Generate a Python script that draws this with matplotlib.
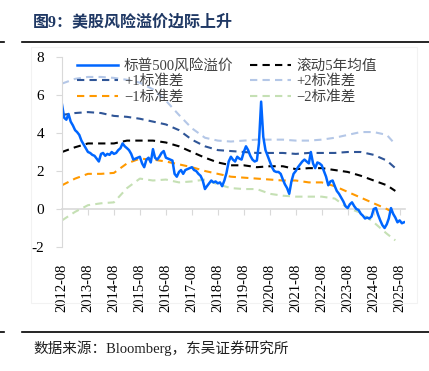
import pandas as pd
import matplotlib
matplotlib.use("Agg")
import matplotlib.pyplot as plt
import matplotlib.dates as mdates
from matplotlib.lines import Line2D
from matplotlib.patches import Rectangle

plt.rcParams['font.family'] = ['Liberation Serif', 'Noto Sans CJK SC']
plt.rcParams['axes.unicode_minus'] = False

## 数据
# 标普500风险溢价（月度，2012-08 起）
erp_start = "2012-08-01"
erp = [5.5, 4.8, 4.7, 5.0, 4.6, 4.4, 4.15, 4.05, 3.9, 3.6, 3.4, 3.2,
       3.0, 2.95, 2.85, 2.8, 2.65, 2.5, 2.9, 2.95, 2.8, 2.9, 2.85, 3.0,
       2.9, 2.95, 3.1, 3.2, 3.45, 3.3, 3.2, 3.1, 2.9, 2.6, 2.65, 2.7,
       2.75, 2.4, 2.2, 2.6, 2.7, 2.45, 3.15, 2.7, 2.6, 2.75, 2.95, 3.05,
       2.7, 2.65, 2.6, 2.55, 1.85, 1.7, 1.95, 2.05, 1.85, 2.05, 2.1, 2.15,
       2.2, 2.05, 2.0, 1.85, 1.75, 1.5, 1.05, 1.2, 1.35, 1.5, 1.4, 1.45,
       1.35, 1.4, 1.2, 1.5, 1.9, 2.5, 2.75, 2.6, 2.5, 2.75, 2.65, 2.6,
       3.0, 3.3, 3.1, 2.8, 2.6, 2.5, 2.55, 3.45, 5.65, 3.8, 3.1, 2.8,
       2.5, 2.2, 2.0, 1.95, 1.95, 1.85, 1.55, 1.3, 1.1, 0.8, 1.45, 1.85,
       2.0, 2.2, 2.35, 2.5, 2.6, 2.5, 2.4, 3.0, 2.4, 2.15, 2.45, 2.4,
       2.3, 2.0, 1.7, 1.25, 1.45, 1.5, 1.2, 0.95, 0.8, 0.6, 0.4, 0.15,
       0.05, 0.25, 0.35, 0.15, 0.0, -0.05, -0.25, -0.35, -0.5, -0.45, -0.5, -0.4,
       0.0, 0.05, -0.3, -0.6, -0.85, -1.0, -0.8, -0.5, 0.05, -0.25, -0.45, -0.7,
       -0.6, -0.75, -0.7]
erp_dates = pd.date_range(erp_start, periods=len(erp), freq="MS")

# 滚动5年均值及标准差带（半年度读数）
band_dates = pd.to_datetime([
    "2012-08", "2013-02", "2013-08", "2014-02", "2014-08", "2015-02", "2015-08",
    "2016-02", "2016-08", "2017-02", "2017-08", "2018-02", "2018-08", "2019-02",
    "2019-08", "2020-02", "2020-08", "2021-02", "2021-08", "2022-02", "2022-08",
    "2023-02", "2023-08", "2024-02", "2024-08", "2025-02", "2025-06"])
mean5y = [3.0, 3.25, 3.45, 3.45, 3.45, 3.6, 3.6, 3.6, 3.5, 3.3, 3.0, 2.7, 2.45, 2.3,
          2.3, 2.2, 2.25, 2.25, 2.1, 2.15, 2.15, 2.05, 1.95, 1.75, 1.5, 1.25, 0.95]
plus1 = [4.95, 5.05, 5.1, 5.05, 4.9, 4.85, 4.75, 4.6, 4.45, 4.15, 3.65, 3.3, 3.1, 3.05,
         3.0, 2.95, 2.95, 2.95, 2.9, 2.95, 2.95, 2.95, 3.0, 3.0, 2.85, 2.55, 2.15]
plus2 = [6.6, 6.85, 6.95, 6.95, 6.9, 6.8, 6.65, 6.3, 5.7, 4.95, 4.25, 3.75, 3.6, 3.55,
         3.6, 3.65, 3.65, 3.65, 3.6, 3.6, 3.65, 3.75, 3.9, 4.05, 4.05, 3.9, 3.4]
minus1 = [1.25, 1.6, 1.85, 1.85, 1.9, 2.4, 2.65, 2.6, 2.5, 2.35, 2.2, 2.0, 1.85, 1.7,
          1.65, 1.6, 1.55, 1.5, 1.5, 1.4, 1.4, 1.2, 0.9, 0.6, 0.3, 0.0, -0.25]
minus2 = [-0.6, -0.15, 0.2, 0.3, 0.35, 1.1, 1.6, 1.5, 1.55, 1.4, 1.45, 1.55, 1.3, 1.1,
          1.05, 1.05, 0.8, 0.7, 0.65, 0.65, 0.65, 0.55, 0.05, -0.2, -0.7, -1.3, -1.65]

tick_dates = pd.to_datetime(["{}-08-01".format(y) for y in range(2012, 2026)])

## 作图
fig = plt.figure(figsize=(4.29, 3.71), dpi=100)
W, H = 429, 371
ax = fig.add_axes([62 / W, 1 - 247 / H, (405 - 62) / W, (247 - 57) / H])

dash = (3.5, 2.5)
lw = 1.5
l_p1, = ax.plot(band_dates, plus1, color="#2F5597", lw=lw, dashes=dash, label="+1标准差")
l_p2, = ax.plot(band_dates, plus2, color="#B4C7E7", lw=lw, dashes=dash, label="+2标准差")
l_m2, = ax.plot(band_dates, minus2, color="#C5E0B4", lw=lw, dashes=dash, label="−2标准差")
l_m1, = ax.plot(band_dates, minus1, color="#FF9900", lw=lw, dashes=dash, label="−1标准差")
l_mean, = ax.plot(band_dates, mean5y, color="black", lw=lw, dashes=dash, label="滚动5年均值")
l_erp, = ax.plot(erp_dates, erp, color="#0066FF", lw=1.8, label="标普500风险溢价")

ax.set_ylim(-2, 8)
ax.set_yticks([-2, 0, 2, 4, 6, 8])
ax.set_xlim(pd.Timestamp("2012-08-01"), pd.Timestamp("2025-10-15"))
ax.set_xticks(tick_dates)
ax.set_xticklabels([d.strftime("%Y-%m") for d in tick_dates], rotation=90)

for s in ["top", "right", "bottom"]:
    ax.spines[s].set_visible(False)
ax.spines["left"].set_color("#D9D9D9")
ax.tick_params(axis="y", length=4, color="#D9D9D9", pad=9, labelsize=11)
ax.tick_params(axis="x", length=0, pad=12, labelsize=10.5)

# 横轴位于0处
sec = ax.secondary_xaxis(0, transform=ax.transData)
sec.set_xticks(mdates.date2num(tick_dates))
sec.set_xticklabels([])
sec.spines["bottom"].set_color("#D9D9D9")
sec.spines["bottom"].set_linewidth(1.2)
sec.tick_params(length=4, color="#D9D9D9")

leg = ax.legend(handles=[l_erp, l_p1, l_m1, l_mean, l_p2, l_m2], ncol=2,
                loc="upper left", bbox_to_anchor=(0.045, 0.99), frameon=False,
                fontsize=10.5, handlelength=2.8, handletextpad=0.4,
                columnspacing=1.1, labelspacing=0.15, borderpad=0, borderaxespad=0)
for t in leg.get_texts():
    t.set_color("#404040")

# 标题与来源
fig.text(33 / W, 1 - 22 / H, "图9：美股风险溢价边际上升", fontsize=11.5,
         fontweight="bold", color="#1F3864", va="center", ha="left")
fig.text(33 / W, 1 - 348 / H, "数据来源：Bloomberg，东吴证券研究所", fontsize=10.5,
         color="#202020", va="center", ha="left")

for yy in [42, 332]:
    fig.add_artist(Line2D([22 / W, 1], [1 - yy / H] * 2, color="black", lw=1.2))
    fig.add_artist(Line2D([0, 4 / W], [1 - yy / H] * 2, color="black", lw=1.2))
fig.add_artist(Rectangle((31 / W, 1 - 303 / H), (417 - 31) / W, (303 - 47) / H,
                         fill=False, edgecolor="#F2F2F2", lw=0.8))

fig.savefig("out.png", dpi=100)
